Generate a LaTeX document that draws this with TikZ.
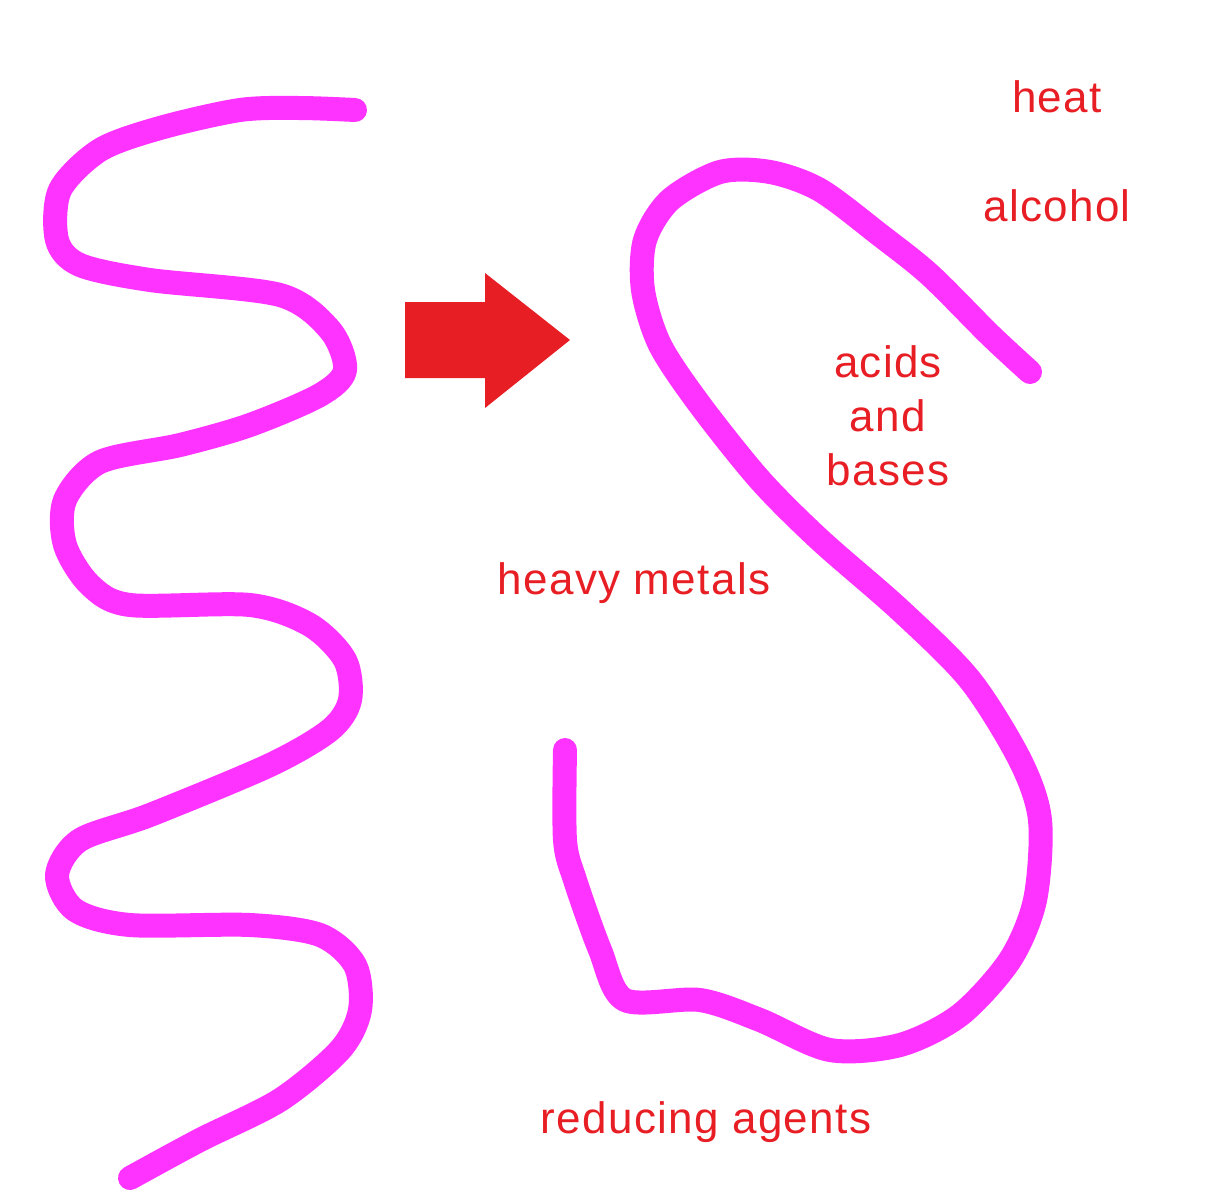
\documentclass[tikz,border=0pt]{standalone}
\usepackage{fontspec}
\setmainfont{Liberation Sans}[LetterSpace=3]
\definecolor{pinkline}{RGB}{255,51,255}
\definecolor{redtxt}{RGB}{232,30,37}
\begin{document}
\begin{tikzpicture}[x=1pt,y=-1pt,
  strand/.style={draw=pinkline,line width=24pt,line cap=round,line join=round},
  lbl/.style={text=redtxt,font=\fontsize{44}{54}\selectfont,align=center,inner sep=0pt}]
\useasboundingbox (0,0) rectangle (1215,1200);
\draw[strand] plot[smooth,tension=0.5] coordinates {(355,110) (300,108) (240,110) (160,128) (100,150) (60,190) (57,240) (80,265) (150,280) (280,295) (330,330) (345,370) (320,395) (250,425) (180,445) (100,462) (65,500) (65,545) (90,585) (130,605) (250,605) (310,625) (345,660) (350,700) (330,730) (270,765) (150,815) (80,840) (57,875) (75,910) (130,925) (250,925) (320,935) (355,965) (360,1010) (340,1050) (280,1100) (200,1140) (130,1178)};
\draw[strand] plot[smooth,tension=0.5] coordinates {(1030,372) (990,335) (930,275) (880,235) (820,190) (770,172) (720,172) (670,200) (645,240) (643,290) (660,345) (700,405) (760,480) (820,540) (900,610) (970,680) (1020,760) (1040,820) (1035,900) (1010,960) (960,1015) (900,1045) (830,1050) (760,1020) (700,1000) (625,1000) (600,950) (575,880) (565,840) (565,750)};
\fill[redtxt] (405,302) -- (485,302) -- (485,273) -- (570,340) -- (485,408) -- (485,378) -- (405,378) -- cycle;
\node[lbl] (heat) at (1057,97) {heat};
\node[lbl] (alc) at (1057,206) {alcohol};
\node[lbl] (ab) at (888,416) {acids\\and\\bases};
\node[lbl] (hm) at (634,583) {heavy metals};
\node[lbl] (ra) at (706,1122) {reducing agents};
\end{tikzpicture}
\end{document}
